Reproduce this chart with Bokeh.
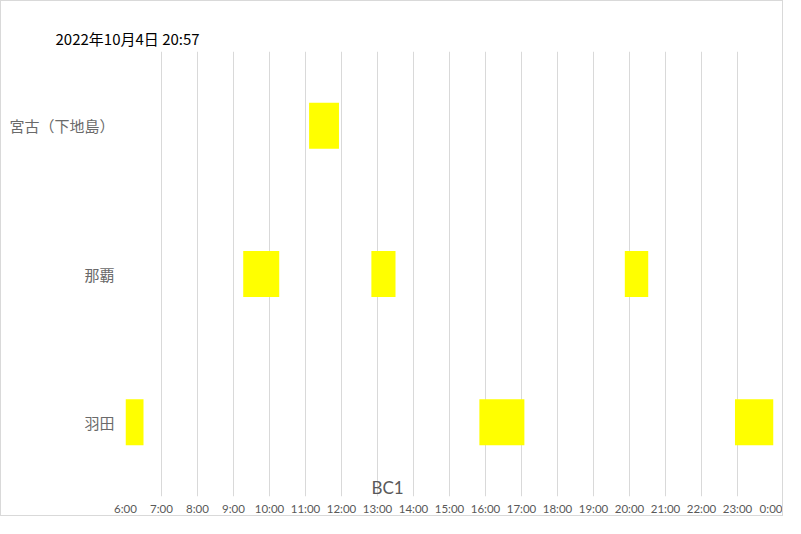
from bokeh.plotting import figure
from bokeh.models import Range1d, FactorRange, FixedTicker, Label, ColumnDataSource, Title
from bokeh.embed import file_html
from bokeh.resources import INLINE

# ---- data ----
airports = ["羽田", "那覇", "宮古（下地島）"]  # bottom -> top
bar_airport = ["宮古（下地島）", "那覇", "那覇", "那覇", "羽田", "羽田", "羽田"]
bar_start = [11.1, 9.27, 12.83, 19.87, 6.0, 15.83, 22.93]
bar_end = [11.93, 10.27, 13.5, 20.52, 6.5, 17.08, 24.0]
hour_ticks = list(range(6, 25))
hour_labels = [f"{h % 24}:00" for h in hour_ticks]
title_text = "2022年10月4日 20:57"
axis_title = "BC1"

p = figure(width=783, height=516, output_backend="svg", toolbar_location=None,
           x_range=Range1d(6, 24), y_range=FactorRange(factors=airports),
           min_border_left=124, min_border_right=11, min_border_top=50, min_border_bottom=19)
p.styles = {"border": "1px solid #d9d9d9"}
p.outline_line_color = None
p.background_fill_color = "white"
p.border_fill_color = "white"

p.title = Title(text=title_text, align="left", offset=-70, standoff=6,
                text_font="Noto Sans CJK JP", text_font_size="15px",
                text_font_style="normal", text_color="black")

src = ColumnDataSource(dict(y=bar_airport, left=bar_start, right=bar_end))
p.hbar(y="y", left="left", right="right", height=0.31, source=src,
       fill_color="#FFFF00", line_color=None)

xa = p.xaxis[0]
xa.ticker = FixedTicker(ticks=hour_ticks)
xa.major_label_overrides = {h: lab for h, lab in zip(hour_ticks, hour_labels)}
xa.axis_line_color = None
xa.major_tick_line_color = None
xa.minor_tick_line_color = None
xa.major_tick_out = 0
xa.major_tick_in = 0
xa.major_label_standoff = 5
xa.major_label_text_font = "Lato"
xa.major_label_text_font_size = "11.5px"
xa.major_label_text_color = "#595959"

ya = p.yaxis[0]
ya.axis_line_color = None
ya.major_tick_line_color = None
ya.minor_tick_line_color = None
ya.major_tick_out = 0
ya.major_tick_in = 0
ya.major_label_standoff = 11
ya.major_label_text_font = "Noto Sans CJK JP"
ya.major_label_text_font_size = "15px"
ya.major_label_text_color = "#6a6a6a"

p.xgrid.ticker = FixedTicker(ticks=hour_ticks)
p.xgrid.grid_line_color = "#d9d9d9"
p.xgrid.grid_line_width = 1
p.ygrid.grid_line_color = None

p.add_layout(Label(x=13.28, y=0.06, text=axis_title, text_align="center",
                   text_baseline="middle", text_font="Lato",
                   text_font_size="17px", text_color="#595959"))

open("out.html", "w").write(file_html(p, INLINE))
